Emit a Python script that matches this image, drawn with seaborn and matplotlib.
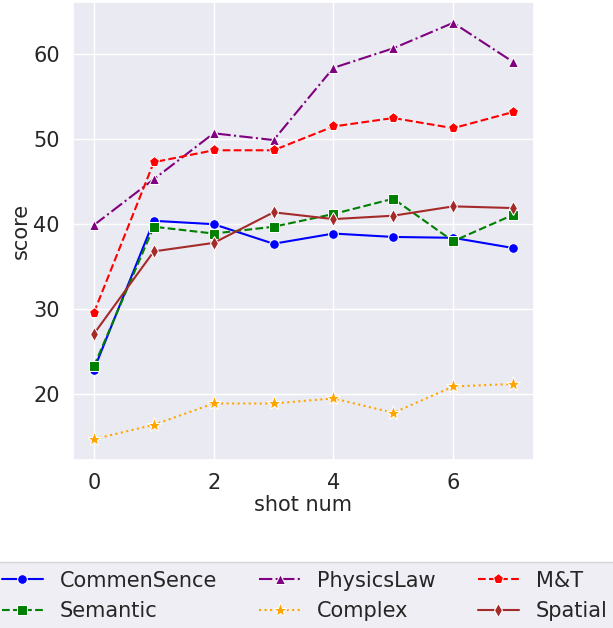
import matplotlib
matplotlib.use('Agg')
import matplotlib.pyplot as plt
import seaborn as sns
import pandas as pd

# ========= data =======================
shot_num = [0, 1, 2, 3, 4, 5, 6, 7]

commensence = [22.9, 40.4, 40.0, 37.7, 38.9, 38.5, 38.4, 37.2]
semantic = [23.3, 39.7, 38.9, 39.7, 41.2, 43.0, 38.0, 41.1]
physicslaw = [39.9, 45.3, 50.7, 49.9, 58.4, 60.7, 63.7, 59.1]
complex_ = [14.7, 16.4, 18.9, 18.9, 19.5, 17.8, 20.9, 21.2]
mt = [29.6, 47.3, 48.7, 48.7, 51.5, 52.5, 51.3, 53.2]
spatial = [27.1, 36.8, 37.8, 41.4, 40.6, 41.0, 42.1, 41.9]

series_names = ['CommenSence', 'Semantic', 'PhysicsLaw', 'Complex', 'M&T', 'Spatial']
series_values = [commensence, semantic, physicslaw, complex_, mt, spatial]

# =========== style =================
colors = ['blue', 'green', 'purple', 'orange', 'red', 'brown']
markers = ['o', 's', '^', '*', 'p', 'd']
linestyles = ['-', '--', '-.', ':', '--', '-']
marker_sizes = [7, 7, 7, 11, 8, 7]

sns.set_theme(style='darkgrid')

fig = plt.figure(figsize=(6.13, 6.28), dpi=100)
ax = fig.add_axes([73 / 613, 1 - 460 / 628, 461 / 613, 458 / 628])

for name, vals, c, m, ls, ms in zip(series_names, series_values, colors,
                                    markers, linestyles, marker_sizes):
    df = pd.DataFrame({'shot num': shot_num, 'score': vals})
    sns.lineplot(data=df, x='shot num', y='score', ax=ax, label=name,
                 color=c, marker=m, linestyle=ls, markersize=ms,
                 linewidth=1.5)

ax.set_xticks([0, 2, 4, 6])
ax.set_yticks([20, 30, 40, 50, 60])
ax.tick_params(labelsize=15)
ax.set_xlabel('shot num', fontsize=15, labelpad=1)
ax.set_ylabel('score', fontsize=15, labelpad=1.5)

ax.legend(loc='upper center', bbox_to_anchor=(0.497, 1 - 552 / 628),
          bbox_transform=fig.transFigure, ncol=3, fontsize=15,
          columnspacing=2.0)

plt.savefig('out.png', dpi=100)
plt.close()
